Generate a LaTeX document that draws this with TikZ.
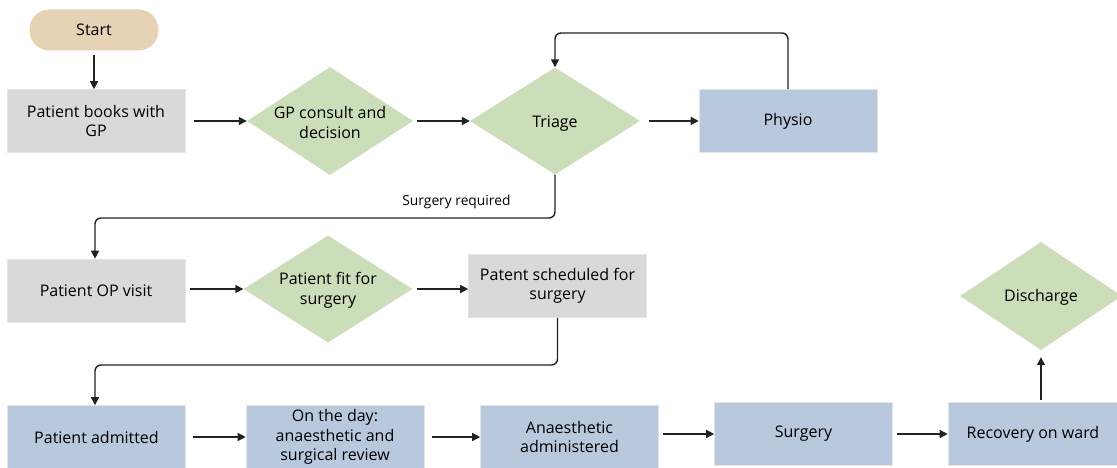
\documentclass[tikz,border=0pt]{standalone}
\usepackage{fontspec}
\setmainfont{Open Sans}
\usetikzlibrary{shapes.geometric,arrows.meta}
\definecolor{cgray}{HTML}{D9D9D9}
\definecolor{cgreen}{HTML}{CCDDB9}
\definecolor{cblue}{HTML}{B8C8DD}
\definecolor{ctan}{HTML}{E6D2B5}
\definecolor{cline}{HTML}{222222}
\tikzset{
  box/.style={rectangle, draw=white!90!black, line width=0.6pt, minimum width=178pt, minimum height=63pt, align=center, inner sep=2pt, font=\fontsize{16}{19.5}\selectfont},
  graybox/.style={box, fill=cgray},
  bluebox/.style={box, fill=cblue},
  dia/.style={diamond, fill=cgreen, inner sep=0pt, minimum width=166pt, minimum height=108pt},
  dtext/.style={align=center, font=\fontsize{16}{19.5}\selectfont},
  pill/.style={rectangle, rounded corners=20pt, fill=ctan, minimum width=129pt, minimum height=41pt, font=\fontsize{16}{19.5}\selectfont},
  conn/.style={draw=cline, line width=1.4pt, -{Triangle[length=8pt,width=8pt]}, rounded corners=6pt},
}
\begin{document}
\begin{tikzpicture}[x=1pt,y=-1pt]
\useasboundingbox (0,0) rectangle (1117,468);
% nodes
\node[pill] (start) at (94,30) {Start};
\node[graybox] (books) at (96,121) {Patient books with\\GP};
\node[dia] (gp) at (330,121) {};
\node[dtext] (gpt) at ([yshift=-1.5pt]gp.center) {GP consult and\\decision};
\node[dia, minimum width=170pt, minimum height=107pt] (triage) at (555,121) {};
\node[dtext] (triaget) at ([yshift=-2.5pt]triage.center) {Triage};
\node[bluebox] (physio) at (788,121) {Physio};
\node[graybox] (op) at (96,290.5) {Patient OP visit};
\node[dia, minimum width=169pt, minimum height=107pt] (fit) at (328,289) {};
\node[dtext] (fitt) at ([yshift=-1.5pt]fit.center) {Patient fit for\\surgery};
\node[graybox] (sched) at (557.5,286) {Patent scheduled for\\surgery};
\node[bluebox] (adm) at (96.5,437) {Patient admitted};
\node[bluebox] (day) at (335,437) {On the day:\\anaesthetic and\\surgical review};
\node[bluebox] (anaes) at (569.5,437) {Anaesthetic\\administered};
\node[bluebox] (surg) at (803.5,434) {Surgery};
\node[bluebox, minimum width=170pt] (rec) at (1033,434) {Recovery on ward};
\node[dia, minimum width=162pt, minimum height=108pt] (dis) at (1041,296) {};
\node[dtext] (dist) at ([yshift=-1.5pt]dis.center) {Discharge};
\coordinate (ytop) at (0,33);
\coordinate (ysr) at (0,218);
\coordinate (ysc) at (0,365);
\coordinate (xl) at (95,0);
% connectors
\draw[conn, shorten <=4pt] (start.south) -- (start.south |- books.north);
\draw[conn, shorten <=9pt] (books.east) -- (gp.west);
\draw[conn, shorten <=4pt] (gp.east) -- (triage.west);
\draw[conn, shorten <=9pt] (triage.east) -- (physio.west);
\draw[conn] (physio.north) -- (physio.north |- ytop) -- (triage.north |- ytop) -- (triage.north);
\draw[conn] (triage.south) -- (triage.south |- ysr) -- (xl |- ysr) -- (xl |- op.north);
\node[font=\fontsize{13.8}{15}\selectfont, anchor=south east] (sr) at (514,212) {Surgery required};
\draw[conn, shorten <=5pt] (op.east |- fit.west) -- (fit.west);
\draw[conn, shorten <=4pt] (fit.east) -- (fit.east -| sched.west);
\draw[conn] (sched.south) -- (sched.south |- ysc) -- (xl |- ysc) -- (xl |- adm.north);
\draw[conn, shorten <=7pt] (adm.east) -- (day.west);
\draw[conn, shorten <=8pt] (day.east) -- (anaes.west);
\draw[conn, shorten <=4pt] (anaes.east |- surg.west) -- (surg.west);
\draw[conn, shorten <=4pt] (surg.east) -- (rec.west);
\draw[conn, shorten <=2pt, shorten >=7pt] (rec.north -| dis.south) -- (dis.south);
\end{tikzpicture}
\end{document}
